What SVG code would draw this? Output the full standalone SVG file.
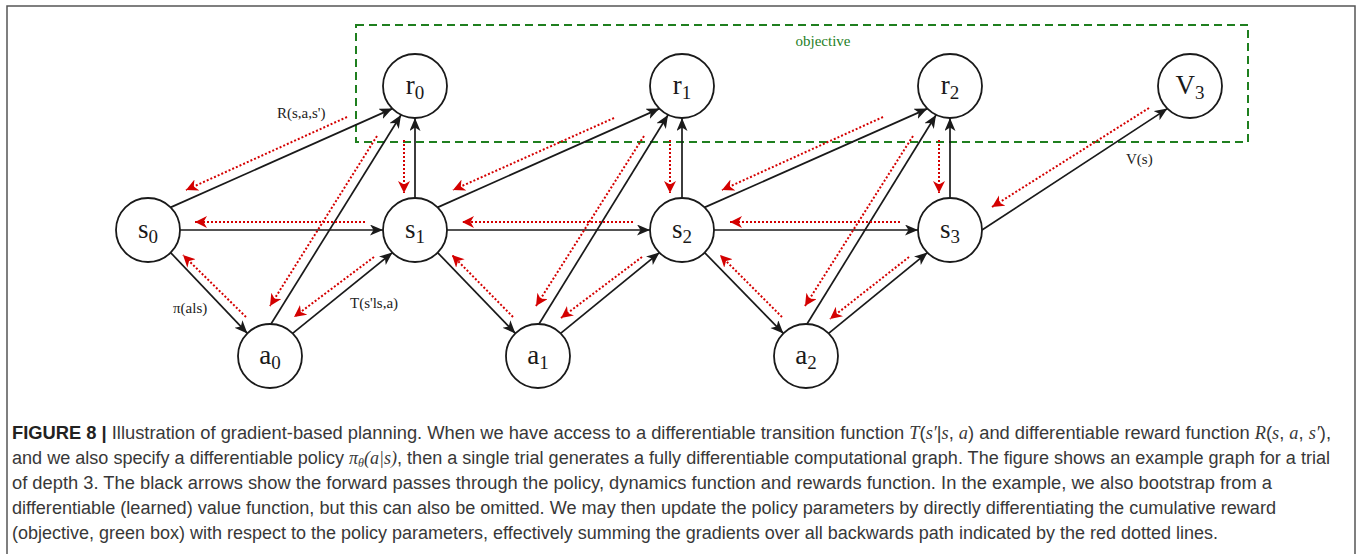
<svg xmlns="http://www.w3.org/2000/svg" width="1360" height="554" viewBox="0 0 1360 554">
<defs>
<marker id="ab" markerUnits="userSpaceOnUse" markerWidth="15" markerHeight="12" refX="13" refY="5.5" orient="auto">
<path d="M0,0 L13,5.5 L0,11 L3.5,5.5 z" fill="#1a1a1a"/>
</marker>
<marker id="ar" markerUnits="userSpaceOnUse" markerWidth="14" markerHeight="14" refX="12" refY="6" orient="auto">
<path d="M0,0 L12,6 L0,12 L3.5,6 z" fill="#d40000"/>
</marker>
<style>
.node circle{fill:#fff;stroke:#1a1a1a;stroke-width:1.8}
.lbl{font-family:"Liberation Serif","Times New Roman",serif;font-size:27px;fill:#1a1a1a;text-anchor:middle}
.sub{font-size:19px}
.fw{stroke:#1a1a1a;stroke-width:1.7;fill:none;marker-end:url(#ab)}
.bw{stroke:#d40000;stroke-width:2;stroke-dasharray:2 2;fill:none;marker-end:url(#ar)}
.el{font-family:"Liberation Serif","Times New Roman",serif;font-size:15px;fill:#222}
.cap{font-family:"Liberation Sans",Arial,sans-serif;font-size:18px;fill:#383838}
.m{font-family:"Liberation Serif","Times New Roman",serif;font-style:italic}
</style>
</defs>
<rect x="7" y="6" width="1348" height="560" fill="#fff" stroke="#555" stroke-width="1.5"/>
<g id="objective">
<rect x="356" y="25" width="892" height="117" fill="none" stroke="#1f7f1f" stroke-width="2" stroke-dasharray="8 5"/>
<text x="823" y="46" font-family="Liberation Serif, serif" font-size="15" fill="#1f7f1f" text-anchor="middle">objective</text>
</g>
<g id="connectors">
<line class="fw" x1="170.6" y1="207.4" x2="392.4" y2="108.6"/>
<line class="fw" x1="271" y1="324" x2="401" y2="115"/>
<line class="fw" x1="415" y1="198" x2="415" y2="118"/>
<line class="fw" x1="180" y1="230" x2="383" y2="230"/>
<line class="fw" x1="170.6" y1="252.6" x2="247.4" y2="333.4"/>
<line class="fw" x1="292.6" y1="333.4" x2="392.4" y2="252.6"/>
<line class="fw" x1="437.6" y1="207.4" x2="659.4" y2="108.6"/>
<line class="fw" x1="539" y1="324" x2="668" y2="115"/>
<line class="fw" x1="682" y1="198" x2="682" y2="118"/>
<line class="fw" x1="447" y1="230" x2="650" y2="230"/>
<line class="fw" x1="437.6" y1="252.6" x2="515.4" y2="333.4"/>
<line class="fw" x1="560.6" y1="333.4" x2="659.4" y2="252.6"/>
<line class="fw" x1="704.6" y1="207.4" x2="927.4" y2="108.6"/>
<line class="fw" x1="807" y1="324" x2="936" y2="115"/>
<line class="fw" x1="950" y1="198" x2="950" y2="118"/>
<line class="fw" x1="714" y1="230" x2="918" y2="230"/>
<line class="fw" x1="704.6" y1="252.6" x2="783.4" y2="333.4"/>
<line class="fw" x1="828.6" y1="333.4" x2="927.4" y2="252.6"/>
<line class="fw" x1="982" y1="230" x2="1167.4" y2="108.6"/>
<line class="bw" x1="347" y1="117" x2="186" y2="190"/>
<line class="bw" x1="377" y1="136" x2="270" y2="306"/>
<line class="bw" x1="404" y1="140" x2="404" y2="193"/>
<line class="bw" x1="365" y1="222" x2="195" y2="222"/>
<line class="bw" x1="246" y1="317" x2="183" y2="255"/>
<line class="bw" x1="374" y1="257" x2="294" y2="317"/>
<line class="bw" x1="614" y1="118" x2="453" y2="190"/>
<line class="bw" x1="644" y1="136" x2="536" y2="306"/>
<line class="bw" x1="670" y1="140" x2="670" y2="193"/>
<line class="bw" x1="633" y1="222" x2="462" y2="222"/>
<line class="bw" x1="513" y1="317" x2="452" y2="255"/>
<line class="bw" x1="642" y1="257" x2="561" y2="318"/>
<line class="bw" x1="883" y1="117" x2="722" y2="190"/>
<line class="bw" x1="913" y1="136" x2="805" y2="306"/>
<line class="bw" x1="939" y1="140" x2="939" y2="193"/>
<line class="bw" x1="900" y1="222" x2="730" y2="222"/>
<line class="bw" x1="782" y1="317" x2="720" y2="255"/>
<line class="bw" x1="909" y1="257" x2="830" y2="319"/>
<line class="bw" x1="1149" y1="108" x2="992" y2="207"/>
<text class="el" x="277" y="118">R(s,a,s')</text>
<text class="el" x="1126" y="164">V(s)</text>
<text class="el" x="173" y="313">π(als)</text>
<text class="el" x="350" y="308">T(s'ls,a)</text>
</g>
<g id="r0" class="node"><circle cx="415" cy="86" r="32"/><text class="lbl" x="415" y="94">r<tspan class="sub" dy="5">0</tspan></text></g>
<g id="r1" class="node"><circle cx="682" cy="86" r="32"/><text class="lbl" x="682" y="94">r<tspan class="sub" dy="5">1</tspan></text></g>
<g id="r2" class="node"><circle cx="950" cy="86" r="32"/><text class="lbl" x="950" y="94">r<tspan class="sub" dy="5">2</tspan></text></g>
<g id="V3" class="node"><circle cx="1190" cy="86" r="32"/><text class="lbl" x="1190" y="94">V<tspan class="sub" dy="5">3</tspan></text></g>
<g id="s0" class="node"><circle cx="148" cy="230" r="32"/><text class="lbl" x="148" y="238">s<tspan class="sub" dy="5">0</tspan></text></g>
<g id="s1" class="node"><circle cx="415" cy="230" r="32"/><text class="lbl" x="415" y="238">s<tspan class="sub" dy="5">1</tspan></text></g>
<g id="s2" class="node"><circle cx="682" cy="230" r="32"/><text class="lbl" x="682" y="238">s<tspan class="sub" dy="5">2</tspan></text></g>
<g id="s3" class="node"><circle cx="950" cy="230" r="32"/><text class="lbl" x="950" y="238">s<tspan class="sub" dy="5">3</tspan></text></g>
<g id="a0" class="node"><circle cx="270" cy="356" r="32"/><text class="lbl" x="270" y="364">a<tspan class="sub" dy="5">0</tspan></text></g>
<g id="a1" class="node"><circle cx="538" cy="356" r="32"/><text class="lbl" x="538" y="364">a<tspan class="sub" dy="5">1</tspan></text></g>
<g id="a2" class="node"><circle cx="806" cy="356" r="32"/><text class="lbl" x="806" y="364">a<tspan class="sub" dy="5">2</tspan></text></g>
<g id="caption">
<text class="cap" x="12" y="439" textLength="1319" lengthAdjust="spacingAndGlyphs"><tspan font-weight="bold" fill="#222">FIGURE 8 |</tspan> Illustration of gradient-based planning. When we have access to a differentiable transition function <tspan class="m">T</tspan>(<tspan class="m">s′</tspan>|<tspan class="m">s</tspan>, <tspan class="m">a</tspan>) and differentiable reward function <tspan class="m">R</tspan>(<tspan class="m">s</tspan>, <tspan class="m">a</tspan>, <tspan class="m">s′</tspan>),</text>
<text class="cap" x="12" y="464" textLength="1318" lengthAdjust="spacingAndGlyphs">and we also specify a differentiable policy <tspan class="m">π<tspan font-size="12" dy="3">θ</tspan><tspan dy="-3">(a|s)</tspan></tspan>, then a single trial generates a fully differentiable computational graph. The figure shows an example graph for a trial</text>
<text class="cap" x="12" y="489" textLength="1260" lengthAdjust="spacingAndGlyphs">of depth 3. The black arrows show the forward passes through the policy, dynamics function and rewards function. In the example, we also bootstrap from a</text>
<text class="cap" x="12" y="514" textLength="1264" lengthAdjust="spacingAndGlyphs">differentiable (learned) value function, but this can also be omitted. We may then update the policy parameters by directly differentiating the cumulative reward</text>
<text class="cap" x="12" y="539" textLength="1206" lengthAdjust="spacingAndGlyphs">(objective, green box) with respect to the policy parameters, effectively summing the gradients over all backwards path indicated by the red dotted lines.</text>
</g>
</svg>
